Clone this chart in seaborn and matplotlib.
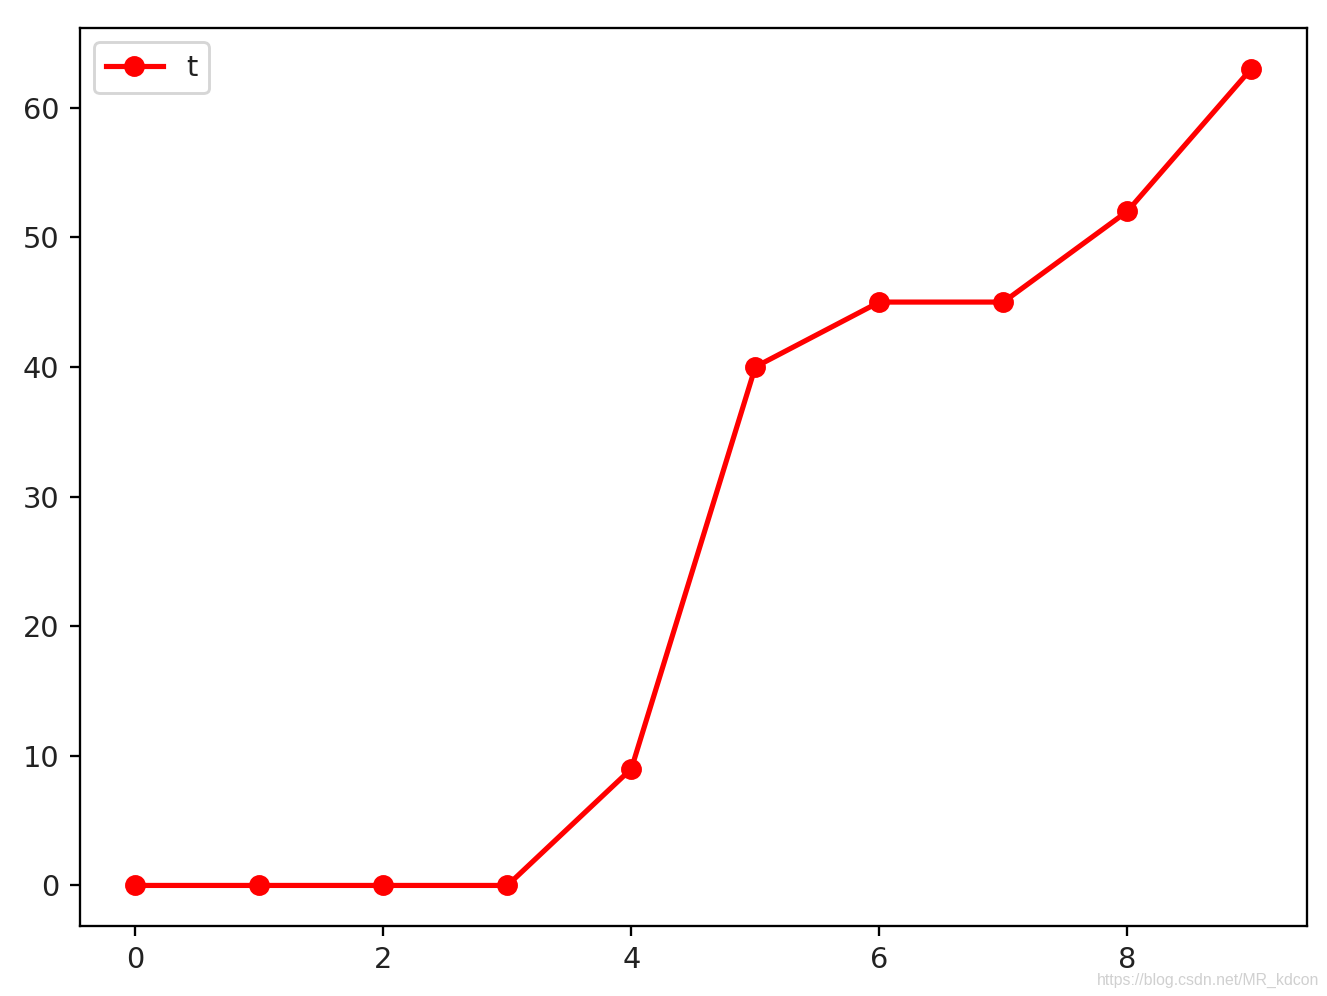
import matplotlib
matplotlib.use('Agg')
import matplotlib.pyplot as plt
import seaborn as sns
import pandas as pd

x_vals = [0, 1, 2, 3, 4, 5, 6, 7, 8, 9]
t_vals = [0, 0, 0, 0, 9, 40, 45, 45, 52, 63]

df = pd.DataFrame({'x': x_vals, 't': t_vals})

plt.rcParams['text.color'] = '#222222'
plt.rcParams['xtick.labelcolor'] = '#222222'
plt.rcParams['ytick.labelcolor'] = '#222222'

dpi = 207.3
fig, ax = plt.subplots(figsize=(1327 / dpi, 996 / dpi), dpi=dpi)
sns.lineplot(data=df, x='x', y='t', marker='o', color='red', markeredgecolor='red',
             linewidth=1.8, markersize=6.5, label='t', ax=ax)
ax.set_xlabel('')
ax.set_ylabel('')
ax.legend(loc='upper left')
fig.subplots_adjust(left=0.06, right=0.985, top=0.972, bottom=0.07)
fig.text(0.994, 0.008, 'https://blog.csdn.net/MR_kdcon', ha='right', va='bottom',
         fontsize=5.5, color='#d0d0d0', family='Liberation Sans')
fig.savefig('out.png', dpi=dpi)
